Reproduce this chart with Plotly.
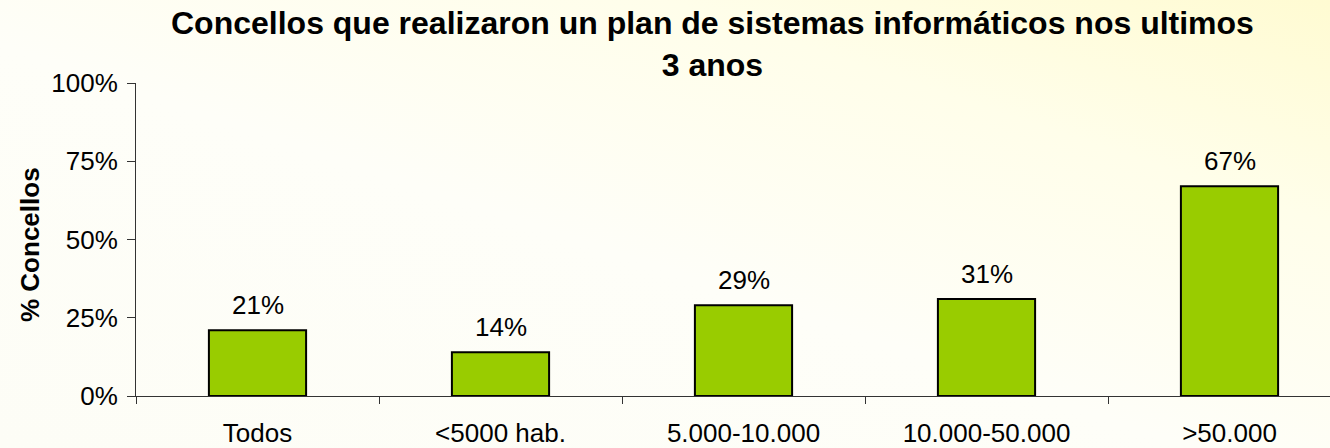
import base64
import plotly.graph_objects as go

categories = ["Todos", "<5000 hab.", "5.000-10.000", "10.000-50.000", ">50.000"]
values = [0.21, 0.14, 0.29, 0.31, 0.67]
value_labels = ["21%", "14%", "29%", "31%", "67%"]
y_tickvals = [0, 0.25, 0.5, 0.75, 1.0]
y_ticktext = ["0%", "25%", "50%", "75%", "100%"]
title_lines = ["Concellos que realizaron un plan de sistemas informáticos nos ultimos", "3 anos"]
y_title = "% Concellos"

FONT = "Liberation Sans, Arial, sans-serif"
W, H = 1330, 448
ML, MR, MT, MB = 136, 0, 83, 52
plot_w = W - ML - MR
plot_h = H - MT - MB


def px_x(px):
    return (px - ML) / plot_w


def px_y(py):
    return 1 + (MT - py) / plot_h


svg = (
    '<svg xmlns="http://www.w3.org/2000/svg" width="1330" height="448" preserveAspectRatio="none">'
    '<defs><linearGradient id="g" x1="0" y1="1" x2="1" y2="0">'
    '<stop offset="0" stop-color="#FDFDF6"/>'
    '<stop offset="0.45" stop-color="#FEFEF8"/>'
    '<stop offset="0.75" stop-color="#FFFEEA"/>'
    '<stop offset="1" stop-color="#FFFBD2"/>'
    '</linearGradient></defs>'
    '<rect width="1330" height="448" fill="url(#g)"/></svg>'
)
svg_uri = "data:image/svg+xml;base64," + base64.b64encode(svg.encode()).decode()

fig = go.Figure(
    go.Bar(
        x=categories,
        y=values,
        width=0.4,
        marker=dict(color="#99CC00", line=dict(color="#000000", width=2)),
        hoverinfo="x+y",
    )
)

annotations = [
    dict(
        x=c,
        y=v,
        xref="x",
        yref="y",
        text=t,
        showarrow=False,
        xanchor="center",
        yanchor="bottom",
        yshift=8,
        font=dict(family=FONT, size=26, color="#000000"),
    )
    for c, v, t in zip(categories, values, value_labels)
]
annotations.append(
    dict(
        x=px_x(712),
        y=px_y(3),
        xref="paper",
        yref="paper",
        text="<b>" + "<br>".join(title_lines) + "</b>",
        showarrow=False,
        xanchor="center",
        yanchor="top",
        align="center",
        font=dict(family=FONT, size=32, color="#000000"),
    )
)
annotations.append(
    dict(
        x=px_x(30),
        y=px_y(245),
        xref="paper",
        yref="paper",
        text="<b>" + y_title + "</b>",
        textangle=-90,
        showarrow=False,
        xanchor="center",
        yanchor="middle",
        font=dict(family=FONT, size=26, color="#000000"),
    )
)

fig.update_layout(
    width=W,
    height=H,
    margin=dict(l=ML, r=MR, t=MT, b=MB, autoexpand=False),
    paper_bgcolor="#FFFFFF",
    plot_bgcolor="rgba(0,0,0,0)",
    showlegend=False,
    font=dict(family=FONT, size=26, color="#000000"),
    annotations=annotations,
    images=[
        dict(
            source=svg_uri,
            xref="paper",
            yref="paper",
            x=-ML / plot_w,
            y=1 + MT / plot_h,
            sizex=W / plot_w,
            sizey=H / plot_h,
            sizing="stretch",
            xanchor="left",
            yanchor="top",
            layer="below",
        )
    ],
)

fig.update_xaxes(
    range=[-0.5, 4.5 - 21 / 243],
    automargin=False,
    showline=True,
    linecolor="#333333",
    linewidth=1,
    ticks="outside",
    tickson="boundaries",
    ticklen=7,
    tickcolor="#333333",
    showgrid=False,
    tickfont=dict(family=FONT, size=26, color="#000000"),
    ticklabelstandoff=14,
)

fig.update_yaxes(
    range=[0, 1],
    automargin=False,
    tickvals=y_tickvals,
    ticktext=y_ticktext,
    showline=True,
    linecolor="#333333",
    linewidth=1,
    ticks="outside",
    ticklen=8,
    tickcolor="#333333",
    showgrid=False,
    zeroline=False,
    tickfont=dict(family=FONT, size=26, color="#000000"),
    ticklabelstandoff=4,
)

fig.write_html(
    "out.html",
    config={"displayModeBar": False},
    post_script="document.body.style.margin='0';document.body.style.overflow='hidden';",
)
